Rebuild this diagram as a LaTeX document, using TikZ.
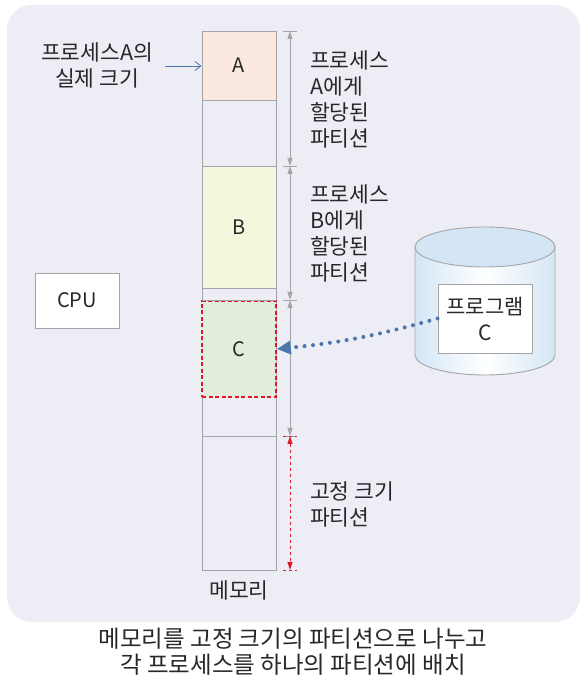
\documentclass[tikz,border=0pt]{standalone}
\usepackage{fontspec}
\setmainfont{Noto Sans CJK KR}
\usetikzlibrary{positioning,arrows.meta}

\definecolor{bgcol}{RGB}{237,237,245}
\definecolor{memgray}{RGB}{165,165,165}
\definecolor{fillA}{RGB}{251,232,224}
\definecolor{fillB}{RGB}{245,247,221}
\definecolor{fillC}{RGB}{226,238,220}
\definecolor{redline}{RGB}{222,24,42}
\definecolor{arrowblue}{RGB}{78,118,172}
\definecolor{cylblue}{RGB}{212,230,245}
\definecolor{txtgray}{RGB}{40,40,40}

\tikzset{
  lbl/.style={font=\fontsize{21.5}{26}\selectfont, text=txtgray, align=left, inner sep=0pt},
  membox/.style={draw=memgray, line width=0.9pt, minimum width=74pt, inner sep=0pt,
    font=\fontsize{20}{24}\selectfont, text=txtgray},
  dimline/.style={draw=memgray, line width=0.8pt, {Triangle[length=8pt,width=5pt]}-{Triangle[length=8pt,width=5pt]}},
  dimtick/.style={draw=memgray, line width=0.8pt},
  reddim/.style={draw=redline, line width=0.8pt, dashed, {Triangle[length=8pt,width=5pt]}-{Triangle[length=8pt,width=5pt]}},
  redtick/.style={draw=redline, line width=0.8pt, dashed},
}

\begin{document}
\begin{tikzpicture}[x=1pt, y=1pt]
    \useasboundingbox (0,0) rectangle (586,682);

    % Background panel
    \fill[bgcol, rounded corners=25pt] (7,60) rectangle (580,677);

    % Memory column
    \node[membox, fill=bgcol, minimum height=539pt] (mem) at (239,381.5) {};
    \node[membox, fill=fillA, minimum height=69pt] (procA) at (239,616.5) {A};
    \node[membox, fill=fillB, minimum height=122pt] (procB) at (239,455) {B};
    \node[membox, fill=fillC, draw=redline, line width=1.6pt,
          dash pattern=on 4pt off 2.5pt, minimum width=74pt, minimum height=96pt] (procC) at (239,333) {C};

    % Partition borders
    \foreach \y in {516,382,246}
        \draw[memgray, line width=0.9pt] (202,\y) -- (276,\y);

    \node[lbl, below=10pt of mem] (memlbl) {메모리};

    % Dimension marks
    \coordinate (d0) at (290,651);
    \coordinate (d1) at (290,516);
    \coordinate (d2) at (290,382);
    \coordinate (d3) at (290,246);
    \coordinate (d4) at (290,112);
    \foreach \d in {d0,d1,d2,d3}
        \draw[dimtick] ([xshift=-7pt]\d) -- ([xshift=7pt]\d);
    \draw[dimline] (d0) -- (d1);
    \draw[dimline] (d1) -- (d2);
    \draw[dimline] (d2) -- (d3);
    \draw[redtick] ([xshift=-7pt]d3) -- ([xshift=7pt]d3);
    \draw[redtick] ([xshift=-7pt]d4) -- ([xshift=7pt]d4);
    \draw[reddim] (d3) -- (d4);

    % Partition labels
    \node[lbl, anchor=west] (partA) at (310,583) {프로세스\\A에게\\할당된\\파티션};
    \node[lbl, anchor=west] (partB) at (310,449) {프로세스\\B에게\\할당된\\파티션};
    \node[lbl, anchor=west] (fixed) at (310,178) {고정 크기\\파티션};

    % Real size of process A
    \node[lbl, align=center] (realA) at (97,617) {프로세스A의\\실제 크기};
    \draw[arrowblue, line width=0.8pt, -{Straight Barb[length=6pt,width=9pt]}] (165,616) -- (procA.west |- 0,616);

    % CPU
    \node[draw=memgray, fill=white, line width=0.9pt, minimum width=84pt, minimum height=55pt,
          font=\fontsize{20}{24}\selectfont, text=txtgray] (cpu) at (77,381.5) {CPU};

    % Disk cylinder
    \shade[left color=cylblue, right color=cylblue, middle color=white]
        (415,435) -- (415,327) arc[start angle=180, end angle=360, x radius=70pt, y radius=20pt] -- (555,435) -- cycle;
    \draw[memgray, line width=0.9pt]
        (415,435) -- (415,327) arc[start angle=180, end angle=360, x radius=70pt, y radius=20pt] -- (555,435);
    \filldraw[fill=cylblue, draw=memgray, line width=0.9pt] (485,435) ellipse[x radius=70pt, y radius=20pt];

    \node[draw=memgray, fill=white, line width=0.9pt, minimum width=94pt, minimum height=69pt,
          font=\fontsize{21}{26}\selectfont, text=txtgray, align=center] (prog) at (485,363.5) {프로그램\\C};

    % Loading program C
    \draw[arrowblue, line width=4pt, line cap=round, dash pattern=on 0pt off 8.5pt,
          -{Triangle[length=14pt,width=13pt,line cap=butt]}]
        (prog.west) to[bend left=5] (procC.east);

    % Caption
    \node[font=\fontsize{23.5}{26}\selectfont, text=txtgray, align=center, inner sep=0pt] (caption) at (293,30)
        {메모리를 고정 크기의 파티션으로 나누고\\각 프로세스를 하나의 파티션에 배치};

\end{tikzpicture}
\end{document}
